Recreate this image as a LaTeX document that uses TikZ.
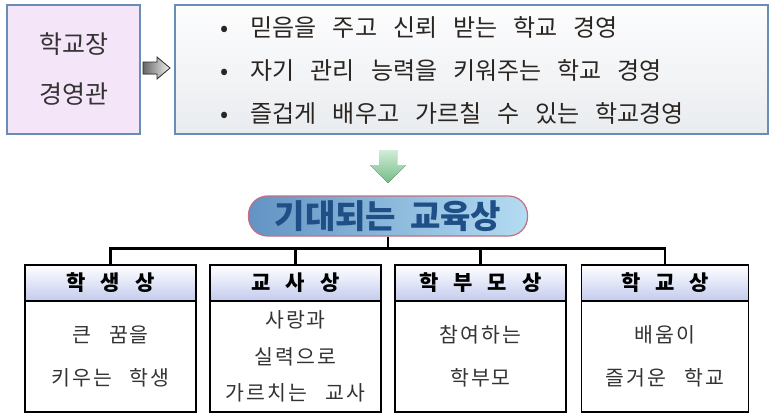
\documentclass[tikz,border=0pt]{standalone}
\usepackage{fontspec}
\usetikzlibrary{arrows,positioning,shapes.arrows}
\newfontfamily\kr{Noto Sans CJK KR}
\newfontfamily\krwide[LetterSpace=10]{Noto Sans CJK KR}
\definecolor{frameblue}{HTML}{6A8DB5}
\definecolor{lavender}{HTML}{F4E5F8}
\definecolor{paneltop}{HTML}{FDFDFE}
\definecolor{panelbot}{HTML}{E9ECEF}
\definecolor{headblue}{HTML}{C3CBEE}
\definecolor{titledark}{HTML}{6393C4}
\definecolor{titlelight}{HTML}{B4DCF2}
\definecolor{titlerim}{HTML}{C07080}
\definecolor{titletext}{HTML}{1E4F86}
\definecolor{arrowgreen}{HTML}{72BC86}
\definecolor{arrowpale}{HTML}{D2ECD8}
\definecolor{bodygray}{HTML}{333333}
\definecolor{inkdark}{HTML}{2A2520}

\begin{document}
\begin{tikzpicture}[
    headbox/.style={draw,line width=1.6pt,top color=white,bottom color=headblue,
      minimum width=171pt,minimum height=36pt,outer sep=0pt,inner sep=0pt,
      font={\krwide\bfseries\fontsize{21}{21}\selectfont\spaceskip=15pt}},
    bodybox/.style={draw,line width=1.6pt,fill=white,minimum width=171pt,
      minimum height=111pt,outer sep=0pt,align=center,text=bodygray,
      font={\krwide\fontsize{20.5}{36.5}\selectfont\spaceskip=18pt}},
    goalline/.style={anchor=west,text=inkdark,
      font={\kr\fontsize{24}{24}\selectfont\spaceskip=16pt}},
    link/.style={draw=black,line width=2.4pt}
  ]
  \useasboundingbox (0,0) rectangle (773pt,-418pt);

  % top row
  \node[draw=frameblue,line width=1.5pt,fill=lavender,minimum width=133pt,
    minimum height=129pt,align=center,text=bodygray,
    font={\kr\fontsize{25}{50}\selectfont}] (head) at (73.5pt,-69.5pt) {학교장\\경영관};
  \node[draw=frameblue,line width=1.5pt,top color=paneltop,bottom color=panelbot,
    minimum width=593pt,minimum height=129pt] (plan) at (471.5pt,-69.5pt) {};
  \filldraw[draw=gray!35!black,line width=0.8pt,left color=gray!80!black,right color=gray!10]
    (143pt,-62pt) -- (157pt,-62pt) -- (157pt,-57pt) -- (170pt,-68pt)
    -- (157pt,-79pt) -- (157pt,-74pt) -- (143pt,-74pt) -- cycle;
  \node[goalline] (l1) at (217pt,-27pt) {•\hspace{22pt}믿음을 주고 신뢰 받는 학교 경영};
  \node[goalline] (l2) at (217pt,-70pt) {•\hspace{22pt}자기 관리 능력을 키워주는 학교 경영};
  \node[goalline] (l3) at (217pt,-113pt) {•\hspace{22pt}즐겁게 배우고 가르칠 수 있는 학교경영};

  % down arrow
  \fill[top color=arrowpale,bottom color=arrowgreen]
    (379pt,-150pt) -- (397pt,-150pt) -- (397pt,-165pt) -- (406pt,-165pt)
    -- (388pt,-183pt) -- (370pt,-165pt) -- (379pt,-165pt) -- cycle;

  % goal and its four parts
  \node[rounded corners=19pt,minimum width=279pt,minimum height=40pt,
    left color=titledark,right color=titlelight,draw=titlerim,line width=1.2pt,
    text=titletext,font={\kr\bfseries\fontsize{33}{33}\selectfont\spaceskip=14pt}] (goal) at (388pt,-216pt) {기대되는 교육상};

  \node[headbox] (h1) at (110.5pt,-283pt) {학 생 상};
  \node[headbox] (h2) at (295.5pt,-283pt) {교 사 상};
  \node[headbox] (h3) at (480.5pt,-283pt) {학 부 모 상};
  \node[headbox,minimum width=167pt] (h4) at (665pt,-283pt) {학 교 상};

  \node[bodybox,below=0pt of h1] (b1) {큰 꿈을\\[6.5pt]키우는 학생};
  \node[bodybox,below=0pt of h2] (b2) {사랑과\\실력으로\\가르치는 교사};
  \node[bodybox,below=0pt of h3] (b3) {참여하는\\[6.5pt]학부모};
  \node[bodybox,minimum width=167pt,below=0pt of h4] (b4) {배움이\\[6.5pt]즐거운 학교};

  \foreach \i in {1,...,4}
    \draw[link] (goal.south) -- ++(0,-12pt) -| (h\i.north);
\end{tikzpicture}
\end{document}
